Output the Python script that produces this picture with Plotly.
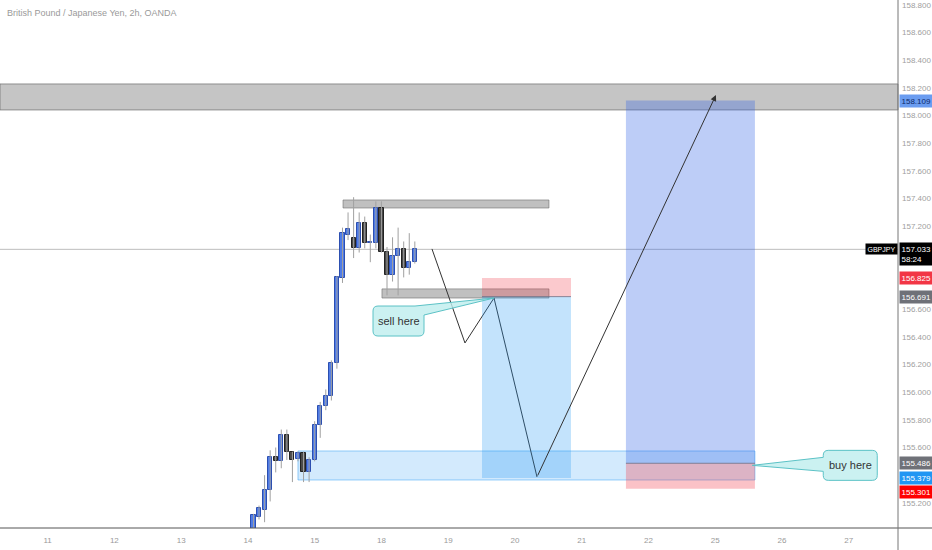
import plotly.graph_objects as go

# ---------------- data ----------------
day_labels = ['11', '12', '13', '14', '15', '18', '19', '20', '21', '22', '25', '26', '27']
first_slot = 3 + 1 / 12          # first visible 2h candle (day "14", 2nd bar)
bars_per_day = 12

opens = [154.98, 155.10, 155.15, 155.29, 155.53, 155.50, 155.69, 155.57, 155.52, 155.56,
         155.42, 155.51, 155.76, 155.90, 155.97, 156.21, 156.826, 157.14, 157.115, 157.043,
         157.224, 157.079, 157.079, 157.332, 157.014, 156.848, 156.985, 157.036, 156.898, 156.942]
highs = [155.12, 155.18, 155.40, 155.58, 155.60, 155.73, 155.73, 155.57, 155.57, 155.57,
         155.53, 155.79, 155.93, 156.02, 156.23, 156.84, 157.19, 157.30, 157.41, 157.30,
         157.27, 157.14, 157.38, 157.38, 157.05, 157.12, 157.19, 157.09, 157.15, 157.09]
lows = [154.95, 155.08, 155.06, 155.21, 155.42, 155.45, 155.51, 155.35, 155.50, 155.35,
        155.35, 155.50, 155.67, 155.87, 155.94, 156.17, 156.79, 157.10, 156.97, 157.01,
        157.04, 156.94, 157.04, 157.01, 156.70, 156.80, 156.70, 156.83, 156.85, 156.93]
closes = [155.11, 155.16, 155.29, 155.53, 155.50, 155.69, 155.57, 155.51, 155.56, 155.42,
          155.51, 155.76, 155.90, 155.97, 156.21, 156.833, 157.151, 157.18, 157.043, 157.224,
          157.079, 157.079, 157.332, 157.014, 156.848, 156.985, 157.036, 156.898, 156.942, 157.033]

last_price = 157.033
y_ticks = [155.2, 155.4, 155.6, 155.8, 156.0, 156.2, 156.4, 156.6, 156.8,
           157.0, 157.2, 157.4, 157.6, 157.8, 158.0, 158.2, 158.4, 158.6, 158.8]
# tick labels hidden behind the price tags in the reference
hidden_ticks = [155.4, 156.8, 157.0]

# drawings (time in day-index units, prices)
top_zone = [158.041, 158.229]
resist_box_t, resist_box_p = [4.425, 7.509], [157.332, 157.390]
support_box_t, support_box_p = [5.008, 7.509], [156.681, 156.747]
demand_t, demand_p = [3.750, 10.594], [155.365, 155.575]
short_t = [6.506, 7.839]
short_entry, short_stop, short_target = 156.691, 156.825, 155.379
long_t = [8.662, 10.594]
long_entry, long_stop, long_target = 155.486, 155.301, 158.109
path_t = [5.757, 6.251, 6.686, 7.330]
path_p = [157.036, 156.356, 156.681, 155.387]
arrow_end_t, arrow_end_p = 10.010, 158.149

x_range = [-0.713, 12.737]
y_range = [155.018, 158.836]

# ---------------- figure ----------------
xs = [first_slot + i / bars_per_day for i in range(len(opens))]

fig = go.Figure()

# wicks
wx, wy = [], []
for x, h, l in zip(xs, highs, lows):
    wx += [x, x, None]
    wy += [l, h, None]
fig.add_trace(go.Scatter(x=wx, y=wy, mode='lines', line=dict(color='#a0a0a0', width=1),
                         hoverinfo='skip', showlegend=False))

# bodies
up = [c >= o for o, c in zip(opens, closes)]
body = [(c - o) if abs(c - o) > 0.004 else 0.004 for o, c in zip(opens, closes)]
fill = ['#4f7ce8' if u else '#4a4a4a' for u in up]
edge = ['#2c4fb0' if u else '#222222' for u in up]
fig.add_trace(go.Bar(x=xs, y=body, base=opens, width=0.062,
                     marker=dict(color=fill, line=dict(color=edge, width=1)),
                     showlegend=False, hoverinfo='skip'))

shapes = []
# top resistance zone (full width)
shapes.append(dict(type='rect', xref='paper', yref='y', x0=0, x1=1, y0=top_zone[0], y1=top_zone[1],
                   fillcolor='rgba(150,150,150,0.55)', line=dict(color='rgba(110,110,110,0.7)', width=1),
                   layer='below'))
# gray boxes
for t, p in [(resist_box_t, resist_box_p), (support_box_t, support_box_p)]:
    shapes.append(dict(type='rect', xref='x', yref='y', x0=t[0], x1=t[1], y0=p[0], y1=p[1],
                       fillcolor='rgba(150,150,150,0.6)', line=dict(color='rgba(110,110,110,0.6)', width=1),
                       layer='below'))
# demand zone
shapes.append(dict(type='rect', xref='x', yref='y', x0=demand_t[0], x1=demand_t[1], y0=demand_p[0],
                   y1=demand_p[1], fillcolor='rgba(33,150,243,0.2)',
                   line=dict(color='rgba(33,150,243,0.45)', width=1), layer='below'))
# short position
shapes.append(dict(type='rect', xref='x', yref='y', x0=short_t[0], x1=short_t[1], y0=short_entry,
                   y1=short_stop, fillcolor='rgba(242,54,69,0.27)', line=dict(width=0)))
shapes.append(dict(type='rect', xref='x', yref='y', x0=short_t[0], x1=short_t[1], y0=short_target,
                   y1=short_entry, fillcolor='rgba(33,150,243,0.27)', line=dict(width=0)))
shapes.append(dict(type='line', xref='x', yref='y', x0=short_t[0], x1=short_t[1], y0=short_entry,
                   y1=short_entry, line=dict(color='rgba(110,110,130,0.8)', width=1)))
# long position
shapes.append(dict(type='rect', xref='x', yref='y', x0=long_t[0], x1=long_t[1], y0=long_entry,
                   y1=long_target, fillcolor='rgba(50,100,230,0.32)', line=dict(width=0)))
shapes.append(dict(type='rect', xref='x', yref='y', x0=long_t[0], x1=long_t[1], y0=long_stop,
                   y1=long_entry, fillcolor='rgba(242,54,69,0.3)', line=dict(width=0)))
shapes.append(dict(type='line', xref='x', yref='y', x0=long_t[0], x1=long_t[1], y0=long_entry,
                   y1=long_entry, line=dict(color='rgba(110,110,130,0.8)', width=1)))
# current price line
shapes.append(dict(type='line', xref='paper', yref='y', x0=0, x1=1, y0=last_price, y1=last_price,
                   line=dict(color='#bdbdbd', width=1), layer='below'))
# axes lines
shapes.append(dict(type='line', xref='paper', yref='paper', x0=0, x1=932 / 898, y0=0, y1=0,
                   line=dict(color='#555555', width=1)))
shapes.append(dict(type='line', xref='paper', yref='paper', x0=1, x1=1, y0=-22 / 528, y1=1,
                   line=dict(color='#777777', width=1)))

# callouts (pixel-sized paths anchored at their tips)
callout_fill = 'rgba(190,238,238,0.8)'
callout_line = '#5cc2c6'
sell_path = ('M -116 -8 L -79 -8 L 0 0 L -70 -17 L -70 -33 Q -70 -38 -75 -38 L -116 -38 '
             'Q -121 -38 -121 -33 L -121 -13 Q -121 -8 -116 -8 Z')
buy_path = ('M 76 15 L 120 15 Q 125 15 125 10 L 125 -10 Q 125 -15 120 -15 L 76 -15 '
            'Q 71 -15 71 -10 L 71 -6 L 0 0 L 71 8 L 71 10 Q 71 15 76 15 Z')
shapes.append(dict(type='path', xref='x', yref='y', xsizemode='pixel', ysizemode='pixel',
                   xanchor=path_t[2], yanchor=path_p[2], path=sell_path,
                   fillcolor=callout_fill, line=dict(color=callout_line, width=1)))
shapes.append(dict(type='path', xref='x', yref='y', xsizemode='pixel', ysizemode='pixel',
                   xanchor=long_t[1] - 0.04, yanchor=long_entry - 0.015, path=buy_path,
                   fillcolor=callout_fill, line=dict(color=callout_line, width=1)))

# zig-zag path
fig.add_trace(go.Scatter(x=path_t, y=path_p, mode='lines', line=dict(color='#333333', width=1),
                         hoverinfo='skip', showlegend=False))

annotations = []
annotations.append(dict(x=arrow_end_t, y=arrow_end_p, ax=path_t[-1], ay=path_p[-1], xref='x', yref='y',
                        axref='x', ayref='y', showarrow=True, arrowhead=2, arrowsize=1.2,
                        arrowwidth=1, arrowcolor='#333333', text=''))
annotations.append(dict(x=path_t[2], y=path_p[2], xref='x', yref='y', xshift=-95.5, yshift=-23,
                        text='sell here', showarrow=False, font=dict(size=11, color='#333333',
                                                                     family='Liberation Sans')))
annotations.append(dict(x=long_t[1] - 0.04, y=long_entry - 0.015, xref='x', yref='y', xshift=98, yshift=0,
                        text='buy here', showarrow=False, font=dict(size=11, color='#333333',
                                                                    family='Liberation Sans')))
# title
annotations.append(dict(x=0.006, y=1, xref='paper', yref='paper', xanchor='left', yanchor='top',
                        yshift=-6, text='British Pound / Japanese Yen, 2h, OANDA', showarrow=False,
                        font=dict(size=9, color='#9a9a9a', family='Liberation Sans')))

# price labels on the axis
def price_label(p, bg, fg, yshift=0):
    return dict(x=1, y=p, xref='paper', yref='y', xanchor='left', yanchor='middle', xshift=1,
                yshift=yshift, text=f'{p:.3f}', showarrow=False, bgcolor=bg, borderpad=1.5,
                font=dict(size=8, color=fg, family='Liberation Sans'))

annotations.append(price_label(long_target, '#6a9cf0', '#0d2a6b'))
annotations.append(price_label(short_stop, '#f23645', '#ffffff'))
annotations.append(price_label(short_entry, '#6f7178', '#ffffff'))
annotations.append(price_label(long_entry, '#6f7178', '#ffffff'))
annotations.append(price_label(short_target, '#2196f3', '#ffffff'))
annotations.append(price_label(long_stop, '#ff0000', '#ffffff', yshift=-3))
annotations.append(dict(x=1, y=last_price, xref='paper', yref='y', xanchor='left', yanchor='top', xshift=1,
                        yshift=7, text=f'{last_price:.3f}<br>58:24', align='left', showarrow=False,
                        bgcolor='#000000', borderpad=1.5,
                        font=dict(size=8, color='#ffffff', family='Liberation Sans')))
annotations.append(dict(x=1, y=last_price, xref='paper', yref='y', xanchor='right', yanchor='middle',
                        text='GBPJPY', showarrow=False, bgcolor='#000000', borderpad=1.5,
                        font=dict(size=7, color='#ffffff', family='Liberation Sans')))

fig.update_layout(
    width=932, height=550,
    margin=dict(l=0, r=34, t=0, b=22),
    paper_bgcolor='white', plot_bgcolor='white',
    shapes=shapes, annotations=annotations,
    showlegend=False, bargap=0,
    xaxis=dict(range=x_range, tickvals=list(range(len(day_labels))), ticktext=day_labels,
               showgrid=False, zeroline=False, showline=False, ticks='', ticklabelstandoff=6,
               tickfont=dict(size=8, color='#9a9a9a', family='Liberation Sans'), fixedrange=True),
    yaxis=dict(range=y_range, side='right', tickvals=y_ticks,
               ticktext=['' if any(abs(v - h) < 1e-9 for h in hidden_ticks) else f'{v:.3f}' for v in y_ticks],
               showgrid=False, zeroline=False, showline=False, ticks='', ticklabelstandoff=3,
               tickfont=dict(size=8, color='#a0a0a0', family='Liberation Sans'), fixedrange=True),
)

fig.write_html('out.html', config={'displayModeBar': False},
               post_script="document.body.style.margin='0';document.body.style.overflow='hidden';")
